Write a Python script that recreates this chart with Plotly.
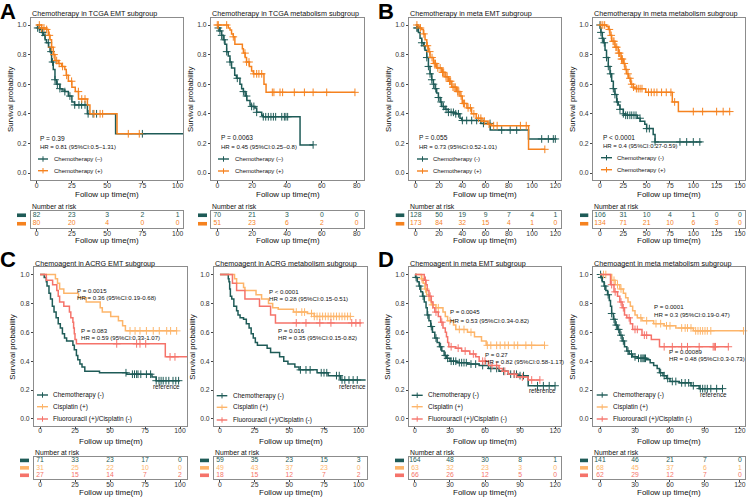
import plotly.graph_objects as go

W, H = 750, 501
TEAL = "#1E5B57"
ORANGE = "#F5821F"
CISPL = "#FDB56A"
FLUORO = "#F5736A"
BOXC = "#8C8C8C"
FONT = "Liberation Sans"

# ---------------- DATA ----------------
# Panel A1: Chemotherapy in TCGA EMT subgroup
a1_neg_t = [0.7, 2, 3.5, 4.7, 6, 7, 8.5, 9.5, 10.6, 11.8, 13, 14, 16.5, 18, 20, 22.5, 25, 26.9, 36, 56]
a1_neg_s = [0.98, 0.97, 0.95, 0.93, 0.90, 0.88, 0.85, 0.82, 0.75, 0.70, 0.63, 0.60, 0.57, 0.56, 0.55, 0.52, 0.48, 0.46, 0.40, 0.265]
a1_neg_end = 104
a1_neg_c = [0.7, 1.9, 4.3, 5.9, 8.3, 10.2, 11.3, 13, 14.7, 16.5, 20, 23.6, 27, 30, 31.9, 34.3, 36.5, 40, 42.5, 75]
a1_pos_t = [3.5, 7, 8.3, 9.5, 10.6, 11.8, 13, 15.3, 17.7, 20, 21, 22.5, 25, 27.4, 29.7, 36, 37.8, 57]
a1_pos_s = [0.98, 0.97, 0.93, 0.90, 0.85, 0.80, 0.76, 0.74, 0.72, 0.70, 0.66, 0.62, 0.58, 0.55, 0.50, 0.46, 0.40, 0.265]
a1_pos_end = 72.8
a1_pos_c = [1.9, 3.5, 5.2, 7.1, 9, 10.6, 12.3, 14.2, 16, 18.4, 21.3, 24.8, 29.6, 32, 34.3, 40.7, 45, 46.8, 65, 72.8]

# Panel A2: Chemotherapy in TCGA metabolism subgroup
a2_neg_t = [0.6, 1.5, 2.5, 3.4, 4.4, 5.4, 6.3, 7.3, 8.2, 10, 11, 13, 14, 15, 16, 17, 18.8, 19.7, 21.6, 22.6, 25.5, 26.4, 47.5]
a2_neg_s = [0.98, 0.96, 0.93, 0.90, 0.87, 0.82, 0.79, 0.75, 0.71, 0.66, 0.64, 0.60, 0.57, 0.55, 0.52, 0.49, 0.46, 0.45, 0.44, 0.41, 0.39, 0.38, 0.19]
a2_neg_end = 55
a2_neg_c = [0.6, 1.5, 2.5, 4, 5.4, 7.3, 11.5, 15, 16.8, 19.7, 21, 22.6, 26.4, 27.8, 29.3, 30.8, 32.2, 33.5, 37, 38.5, 39.4, 40.4, 55]
a2_pos_t = [6.3, 7.3, 8.2, 9.2, 10.1, 14.4, 15, 16, 16.8, 18.4, 19.7, 20.7, 26.8, 28]
a2_pos_s = [0.98, 0.966, 0.94, 0.92, 0.87, 0.84, 0.81, 0.78, 0.75, 0.72, 0.69, 0.67, 0.60, 0.545]
a2_pos_end = 79
a2_pos_c = [0, 0.6, 5.4, 9.2, 15.9, 16.8, 18.2, 21, 22.6, 23.9, 25.5, 31.6, 32.5, 36, 37.5, 44.2, 50, 55, 62.8, 79]

# Panel B1: Chemotherapy in meta EMT subgroup
b1_neg_t = [0.9, 2.3, 3.7, 5.2, 6.6, 8, 9.5, 10.9, 12.3, 13.8, 15.2, 16.6, 18, 19.5, 21, 22.4, 25.2, 28, 33.8, 38, 39.5, 56, 64, 97]
b1_neg_s = [0.98, 0.95, 0.91, 0.88, 0.86, 0.83, 0.78, 0.72, 0.67, 0.63, 0.60, 0.57, 0.54, 0.51, 0.48, 0.45, 0.43, 0.41, 0.40, 0.37, 0.355, 0.335, 0.29, 0.23]
b1_neg_end = 120
b1_neg_c = [0.9, 1.7, 5.2, 7.4, 9.5, 10.9, 12.3, 13.8, 15.2, 17.2, 19.5, 21.8, 23.8, 26.1, 28.1, 30.4, 32.4, 34.4, 36.7, 40.1, 43.8, 48.1, 52.4, 58.2, 63.9, 73.9, 81.2, 86.8, 108.3, 114, 118.3, 120]
b1_pos_t = [2.3, 3.7, 5.2, 6.6, 8, 9.5, 10.9, 12.3, 15.2, 18, 22.4, 25.2, 28, 31, 35, 38, 40, 44, 48, 52, 57, 62, 65, 97]
b1_pos_s = [0.99, 0.98, 0.97, 0.94, 0.90, 0.86, 0.82, 0.78, 0.74, 0.71, 0.68, 0.65, 0.62, 0.58, 0.55, 0.52, 0.47, 0.44, 0.40, 0.37, 0.35, 0.33, 0.32, 0.16]
b1_pos_end = 111
b1_pos_c = [1, 4, 7, 10, 12, 14, 16, 17, 19, 21, 23, 24, 26, 27, 29, 30, 32, 33, 34, 36, 37, 39, 41, 42, 45, 47, 50, 54, 56, 59, 63, 67, 70, 90, 95, 111]

# Panel B2: Chemotherapy in meta metabolism subgroup
b2_neg_t = [0.3, 1, 2.5, 3.6, 5.4, 7, 8.9, 10.7, 12.5, 14.3, 16, 17.9, 19.6, 21.4, 25, 26.8, 40, 43, 48, 50, 57, 59]
b2_neg_s = [0.98, 0.95, 0.91, 0.88, 0.83, 0.78, 0.72, 0.67, 0.62, 0.57, 0.53, 0.48, 0.46, 0.43, 0.40, 0.39, 0.37, 0.35, 0.33, 0.30, 0.26, 0.21]
b2_neg_end = 109
b2_neg_c = [0, 1, 2.5, 4.6, 7, 8.9, 11.4, 14.3, 16, 18.6, 21.4, 25, 27.5, 29.6, 32, 34, 36.4, 38.6, 42.9, 50, 52.9, 59, 85.7, 92.9, 100, 107]
b2_pos_t = [7, 9, 10.7, 12.5, 16, 19.6, 22.5, 25, 26.8, 28.6, 30.4, 33, 35.7, 37.5, 49, 77.5, 84]
b2_pos_s = [0.99, 0.97, 0.93, 0.89, 0.85, 0.81, 0.77, 0.74, 0.70, 0.67, 0.64, 0.60, 0.58, 0.57, 0.545, 0.48, 0.415]
b2_pos_end = 139
b2_pos_c = [1, 3, 5, 10, 12, 14, 15, 17, 18, 20, 21, 23, 24, 26, 28, 30, 32, 34, 36, 39, 41, 43, 45, 52, 55, 58, 61, 66, 71, 76, 80, 100, 110, 125, 132, 139]

# Panel C1: Chemoagent in ACRG EMT subgroup
c1_neg_t = [3, 4.5, 5, 6.4, 7.5, 8.8, 10, 11.5, 13, 14.5, 16, 17.5, 19, 23.5, 24.5, 26, 27, 28.5, 30, 32, 42.5, 62, 80, 83]
c1_neg_s = [0.98, 0.95, 0.92, 0.87, 0.83, 0.78, 0.74, 0.70, 0.66, 0.63, 0.59, 0.56, 0.54, 0.51, 0.48, 0.44, 0.41, 0.38, 0.36, 0.33, 0.32, 0.31, 0.29, 0.265]
c1_neg_end = 100
c1_neg_c = [61.4, 66, 67.5, 69, 70, 72, 76, 79, 83, 85, 86.5, 88, 90, 92, 95, 97, 99]
c1_cis_t = [11, 12.5, 14, 17, 27.5, 33, 43, 44.5, 50.5, 56, 59, 61]
c1_cis_s = [0.97, 0.94, 0.90, 0.87, 0.84, 0.81, 0.77, 0.74, 0.71, 0.68, 0.645, 0.61]
c1_cis_end = 98
c1_cis_c = [64.3, 67.9, 71.4, 76, 80.9, 85.2, 90.5, 93.3, 97.6]
c1_flu_t = [4.5, 9, 12, 13, 14, 17, 21, 22, 23.5, 24, 24.5, 25, 26, 89.5]
c1_flu_s = [0.96, 0.93, 0.89, 0.85, 0.81, 0.78, 0.74, 0.70, 0.67, 0.63, 0.59, 0.55, 0.52, 0.43]
c1_flu_end = 105
c1_flu_c = [54.8, 69, 71.4, 75.5, 92.9, 96.4]

# Panel C2: Chemoagent in ACRG metabolism subgroup
c2_neg_t = [6, 6.5, 7, 7.5, 8.5, 10, 12, 13, 14.5, 17, 19, 21, 22.5, 24, 25.5, 27, 34, 36.5, 43, 46, 49, 54, 57, 70, 78, 87]
c2_neg_s = [0.97, 0.95, 0.90, 0.85, 0.83, 0.78, 0.75, 0.72, 0.70, 0.69, 0.66, 0.63, 0.59, 0.56, 0.53, 0.51, 0.49, 0.46, 0.43, 0.40, 0.38, 0.36, 0.34, 0.32, 0.30, 0.27]
c2_neg_end = 105
c2_neg_c = [58, 62, 65, 73, 75, 77, 84, 86, 88, 90, 93, 96, 99]
c2_cis_t = [10.5, 12, 17, 18, 26, 30, 35, 38, 42, 53, 63, 68]
c2_cis_s = [0.97, 0.94, 0.91, 0.89, 0.86, 0.83, 0.80, 0.77, 0.76, 0.74, 0.73, 0.71]
c2_cis_end = 94
c2_cis_c = [55, 59, 61, 66, 68, 70, 72, 74, 76, 78, 80, 82, 84, 86, 88, 90, 92, 94]
c2_flu_t = [9, 12, 18, 28.5, 36.5, 40]
c2_flu_s = [0.94, 0.89, 0.83, 0.78, 0.72, 0.665]
c2_flu_end = 102
c2_flu_c = [55, 62, 72, 80, 95, 98, 101]

# Panel D1: Chemoagent in meta EMT subgroup
d1_neg_t = [0.5, 2, 3.5, 5, 6.5, 8, 9.5, 10.5, 12, 13.5, 15, 17, 19, 21, 23, 25, 27, 30, 36, 45, 55, 63, 72, 80, 88, 97]
d1_neg_s = [0.98, 0.95, 0.92, 0.88, 0.85, 0.81, 0.77, 0.72, 0.68, 0.64, 0.60, 0.56, 0.53, 0.50, 0.47, 0.44, 0.42, 0.40, 0.39, 0.38, 0.37, 0.35, 0.33, 0.31, 0.30, 0.23]
d1_neg_end = 120
d1_neg_c = [1, 4, 7, 11, 14, 18, 22, 26, 28, 31, 33, 35, 38, 40, 42, 44, 48, 52, 58, 65, 70, 76, 82, 85, 87, 90, 93, 105, 110, 115, 120]
d1_cis_t = [5.5, 7, 8.5, 10, 12, 14, 18, 24, 26, 28, 33, 35, 45, 51, 57, 61]
d1_cis_s = [0.97, 0.94, 0.90, 0.86, 0.82, 0.79, 0.77, 0.74, 0.71, 0.68, 0.65, 0.62, 0.60, 0.57, 0.54, 0.51]
d1_cis_end = 111
d1_cis_c = [6, 9, 15, 20, 30, 38, 42, 48, 62, 65, 70, 73, 77, 80, 85, 88, 95, 100, 111]
d1_flu_t = [8, 9.5, 10.5, 12, 14, 15.5, 17, 20, 22, 24, 26, 27, 28, 29, 35, 40, 47, 52, 55, 63, 72, 75, 80, 87, 97]
d1_flu_s = [0.96, 0.93, 0.89, 0.85, 0.81, 0.77, 0.74, 0.71, 0.67, 0.63, 0.60, 0.57, 0.53, 0.50, 0.49, 0.47, 0.45, 0.43, 0.40, 0.37, 0.35, 0.33, 0.31, 0.29, 0.27]
d1_flu_end = 107
d1_flu_c = [9, 13, 18, 23, 31, 37, 43, 50, 58, 60, 66, 70, 77, 85, 92, 100, 107]

# Panel D2: Chemoagent in meta metabolism subgroup
d2_neg_t = [1, 2, 3.5, 5, 6.5, 8, 9, 10, 11.5, 13, 15, 17, 19, 21, 23, 25, 28, 32, 40, 43, 46, 49, 51, 54, 57, 60, 68, 78, 85]
d2_neg_s = [0.98, 0.95, 0.92, 0.89, 0.86, 0.82, 0.78, 0.73, 0.69, 0.65, 0.62, 0.58, 0.54, 0.50, 0.47, 0.45, 0.43, 0.42, 0.41, 0.39, 0.37, 0.35, 0.32, 0.30, 0.28, 0.26, 0.25, 0.23, 0.21]
d2_neg_end = 105
d2_neg_c = [0.5, 1.5, 4, 7, 10, 12, 14, 16, 18, 20, 24, 27, 30, 33, 35, 36, 37, 38, 39, 52, 55, 58, 62, 65, 70, 73, 76, 80, 86, 88, 90, 92, 95, 100, 105]
d2_cis_t = [10, 13, 17, 20, 22, 24, 26, 28, 30, 32, 36, 46, 55, 65, 80]
d2_cis_s = [0.96, 0.93, 0.90, 0.87, 0.84, 0.81, 0.78, 0.75, 0.72, 0.70, 0.68, 0.66, 0.645, 0.63, 0.61]
d2_cis_end = 123
d2_cis_c = [3, 5, 12, 15, 18, 35, 40, 48, 52, 57, 60, 70, 73, 75, 78, 82, 84, 86, 88, 90, 92, 95, 123]
d2_flu_t = [9, 12, 15, 17, 19, 21, 23, 26, 28, 36, 44, 51]
d2_flu_s = [0.93, 0.88, 0.85, 0.81, 0.77, 0.72, 0.70, 0.66, 0.62, 0.58, 0.55, 0.50]
d2_flu_end = 110
d2_flu_c = [10, 13, 18, 20, 25, 30, 32, 38, 40, 55, 62, 70, 75, 85, 97, 98, 99, 110]

# Number-at-risk tables
a1_risk_ticks = [0, 25, 50, 75, 100]
a1_risk_neg = [82, 23, 3, 2, 1]
a1_risk_pos = [80, 20, 4, 0, 0]
a2_risk_ticks = [0, 20, 40, 60, 80]
a2_risk_neg = [70, 21, 3, 0, 0]
a2_risk_pos = [51, 23, 6, 2, 0]
b1_risk_ticks = [0, 20, 40, 60, 80, 100, 120]
b1_risk_neg = [128, 50, 19, 9, 7, 4, 1]
b1_risk_pos = [173, 84, 32, 15, 4, 1, 0]
b2_risk_ticks = [0, 25, 50, 75, 100, 125, 150]
b2_risk_neg = [106, 31, 10, 4, 1, 0, 0]
b2_risk_pos = [134, 71, 21, 10, 6, 3, 0]
c1_risk_ticks = [0, 25, 50, 75, 100]
c1_risk_neg = [71, 33, 23, 17, 0]
c1_risk_cis = [31, 25, 22, 10, 0]
c1_risk_flu = [27, 15, 14, 7, 2]
c2_risk_ticks = [0, 25, 50, 75, 100]
c2_risk_neg = [59, 35, 23, 15, 3]
c2_risk_cis = [49, 43, 37, 23, 0]
c2_risk_flu = [18, 15, 12, 7, 2]
d1_risk_ticks = [0, 30, 60, 90, 120]
d1_risk_neg = [164, 48, 30, 8, 1]
d1_risk_cis = [63, 32, 23, 3, 0]
d1_risk_flu = [66, 26, 12, 5, 0]
d2_risk_ticks = [0, 30, 60, 90, 120]
d2_risk_neg = [141, 46, 21, 7, 0]
d2_risk_cis = [68, 45, 37, 6, 1]
d2_risk_flu = [62, 29, 12, 7, 0]

y_ticks = [0, 0.2, 0.4, 0.6, 0.8, 1.0]
y_ticktext = ["0.0", "0.2", "0.4", "0.6", "0.8", "1.0"]

# ---------------- LAYOUT GEOMETRY (pixels) ----------------
TOP_KM = (17.6, 180.4)
BOT_KM = (267.3, 426.2)
TOP_TAB = (211, 228)
BOT_TAB = (456.7, 479)

neg2 = ["Chemotherapy (–)", "Chemotherapy (+)"]
neg2b = ["Chemotherapy (-)", "Chemotherapy (+)"]
three = ["Chemotherapy (-)", "Cisplatin (+)", "Fluorouracil (+)/Cisplatin (-)"]

PS, HS, BS = 6.6, 6.0, 6.1  # stat font sizes (top P, top HR, bottom)

panels = [
    dict(title="Chemotherapy in TCGA EMT subgroup", box=(31, 183), row=0, xr=(-4, 103.8),
         ticks=a1_risk_ticks,
         curves=[(a1_neg_t, a1_neg_s, a1_neg_end, a1_neg_c, TEAL), (a1_pos_t, a1_pos_s, a1_pos_end, a1_pos_c, ORANGE)],
         risk=[(a1_risk_neg, TEAL), (a1_risk_pos, ORANGE)], labels=neg2,
         stats=[("P = 0.39", 38.3, 138.3, PS), ("HR = 0.81 (95%CI:0.5–1.31)", 38.3, 146.7, HS)],
         leg=(38, 48, 51.7, [159, 170.7]), ytitle_x=10, bars=(17, 26)),
    dict(title="Chemotherapy in TCGA metabolism subgroup", box=(211, 364), row=0, xr=(-3.6, 84.2),
         ticks=a2_risk_ticks,
         curves=[(a2_neg_t, a2_neg_s, a2_neg_end, a2_neg_c, TEAL), (a2_pos_t, a2_pos_s, a2_pos_end, a2_pos_c, ORANGE)],
         risk=[(a2_risk_neg, TEAL), (a2_risk_pos, ORANGE)], labels=neg2,
         stats=[("P = 0.0063", 219, 138, PS), ("HR = 0.45 (95%CI:0.25–0.8)", 219, 147, HS)],
         leg=(218, 229, 232.7, [159, 171]), ytitle_x=190, bars=(198, 207)),
    dict(title="Chemotherapy in meta EMT subgroup", box=(409, 561), row=0, xr=(-5.8, 124.9),
         ticks=b1_risk_ticks,
         curves=[(b1_neg_t, b1_neg_s, b1_neg_end, b1_neg_c, TEAL), (b1_pos_t, b1_pos_s, b1_pos_end, b1_pos_c, ORANGE)],
         risk=[(b1_risk_neg, TEAL), (b1_risk_pos, ORANGE)], labels=neg2b,
         stats=[("P = 0.055", 416.7, 138, PS), ("HR = 0.73 (95%CI:0.52-1.01)", 416.7, 147, HS)],
         leg=(417, 428, 430.7, [159, 171]), ytitle_x=388, bars=(395.7, 404.3)),
    dict(title="Chemotherapy in meta metabolism subgroup", box=(593, 745), row=0, xr=(-7.5, 155.4),
         ticks=b2_risk_ticks,
         curves=[(b2_neg_t, b2_neg_s, b2_neg_end, b2_neg_c, TEAL), (b2_pos_t, b2_pos_s, b2_pos_end, b2_pos_c, ORANGE)],
         risk=[(b2_risk_neg, TEAL), (b2_risk_pos, ORANGE)], labels=neg2b,
         stats=[("P < 0.0001", 600.7, 137, PS), ("HR = 0.4 (95%CI:0.27-0.59)", 600.7, 146, HS)],
         leg=(601, 612, 615, [157.7, 169.7]), ytitle_x=572, bars=(580, 588.3)),
    dict(title="Chemoagent in ACRG EMT subgroup", box=(34, 187), row=1, xr=(-4.3, 105),
         ticks=c1_risk_ticks,
         curves=[(c1_neg_t, c1_neg_s, c1_neg_end, c1_neg_c, TEAL), (c1_cis_t, c1_cis_s, c1_cis_end, c1_cis_c, CISPL),
                 (c1_flu_t, c1_flu_s, c1_flu_end, c1_flu_c, FLUORO)],
         risk=[(c1_risk_neg, TEAL), (c1_risk_cis, CISPL), (c1_risk_flu, FLUORO)], labels=three,
         stats=[("P = 0.0015", 75, 290.7, BS), ("HR = 0.36 (95%CI:0.19-0.68)", 75, 297.3, BS),
                ("P = 0.083", 78.5, 330.7, BS), ("HR = 0.59 (95%CI:0.33-1.07)", 78.5, 337, BS)],
         ref=(166.7, 386.7),
         leg=(37, 48, 50.7, [395, 406.7, 419]), ytitle_x=13, bars=(20, 29)),
    dict(title="Chemoagent in ACRG metabolism subgroup", box=(214, 367), row=1, xr=(-4.3, 106),
         ticks=c2_risk_ticks,
         curves=[(c2_neg_t, c2_neg_s, c2_neg_end, c2_neg_c, TEAL), (c2_cis_t, c2_cis_s, c2_cis_end, c2_cis_c, CISPL),
                 (c2_flu_t, c2_flu_s, c2_flu_end, c2_flu_c, FLUORO)],
         risk=[(c2_risk_neg, TEAL), (c2_risk_cis, CISPL), (c2_risk_flu, FLUORO)], labels=three,
         stats=[("P < 0.0001", 266.7, 291.7, BS), ("HR = 0.28 (95%CI:0.15-0.51)", 266.7, 298.3, BS),
                ("P = 0.016", 275.7, 330, BS), ("HR = 0.35 (95%CI:0.15-0.82)", 275.7, 337, BS)],
         ref=(352, 386.7),
         leg=(216.7, 227.3, 231, [395.7, 407.3, 420]), ytitle_x=193, bars=(200, 209)),
    dict(title="Chemoagent in meta EMT subgroup", box=(409, 561), row=1, xr=(-5.1, 125.1),
         ticks=d1_risk_ticks,
         curves=[(d1_neg_t, d1_neg_s, d1_neg_end, d1_neg_c, TEAL), (d1_cis_t, d1_cis_s, d1_cis_end, d1_cis_c, CISPL),
                 (d1_flu_t, d1_flu_s, d1_flu_end, d1_flu_c, FLUORO)],
         risk=[(d1_risk_neg, TEAL), (d1_risk_cis, CISPL), (d1_risk_flu, FLUORO)], labels=three,
         stats=[("P = 0.0045", 448.3, 311.7, BS), ("HR = 0.53 (95%CI:0.34-0.82)", 448.3, 320, BS),
                ("P = 0.27", 483.3, 354.3, BS), ("HR = 0.82 (95%CI:0.58-1.17)", 483.3, 361, BS)],
         ref=(542, 390),
         leg=(411.7, 422.7, 426, [395.3, 406.7, 419]), ytitle_x=388, bars=(395, 404)),
    dict(title="Chemoagent in meta metabolism subgroup", box=(593, 745), row=1, xr=(-6, 124.3),
         ticks=d2_risk_ticks,
         curves=[(d2_neg_t, d2_neg_s, d2_neg_end, d2_neg_c, TEAL), (d2_cis_t, d2_cis_s, d2_cis_end, d2_cis_c, CISPL),
                 (d2_flu_t, d2_flu_s, d2_flu_end, d2_flu_c, FLUORO)],
         risk=[(d2_risk_neg, TEAL), (d2_risk_cis, CISPL), (d2_risk_flu, FLUORO)], labels=three,
         stats=[("P = 0.0001", 651.7, 306, BS), ("HR = 0.3 (95%CI:0.19-0.47)", 651.7, 314.3, BS),
                ("P = 0.00089", 666.7, 351, BS), ("HR = 0.48 (95%CI:0.3-0.73)", 666.7, 358.3, BS)],
         ref=(713, 394),
         leg=(596.7, 607.7, 611, [395, 407, 419]), ytitle_x=573, bars=(580, 588)),
]


def PX(p):
    return p / W


def PY(p):
    return 1 - p / H


def step_xy(t, s, end):
    return [0] + list(t) + [end], [1.0] + list(s) + [s[-1]]


def cens_y(t, s, c):
    out = []
    for ci in c:
        v = 1.0
        for ti, si in zip(t, s):
            if ti <= ci:
                v = si
        out.append(v)
    return out


fig = go.Figure()
layout = dict(width=W, height=H, margin=dict(l=0, r=0, t=0, b=0), paper_bgcolor="white",
              plot_bgcolor="white", showlegend=False, font=dict(family=FONT, color="#222"))
annotations = []
shapes = []

axis_common = dict(showgrid=False, zeroline=False, showline=True, mirror=True, linecolor=BOXC,
                   linewidth=1, ticks="outside", ticklen=2, tickwidth=0.8, tickcolor="#444",
                   tickfont=dict(size=6.8, color="#333", family=FONT))

for i, p in enumerate(panels):
    km = i + 1
    tb = i + 9
    L, R = p["box"]
    kmT, kmB = TOP_KM if p["row"] == 0 else BOT_KM
    tbT, tbB = TOP_TAB if p["row"] == 0 else BOT_TAB
    xd = [PX(L), PX(R)]
    layout[f"xaxis{km}"] = dict(axis_common, domain=xd, range=list(p["xr"]), tickvals=p["ticks"],
                                anchor=f"y{km}", ticklabelstandoff=-4)
    layout[f"yaxis{km}"] = dict(axis_common, domain=[PY(kmB), PY(kmT)], range=[-0.05, 1.05],
                                tickvals=y_ticks, ticktext=y_ticktext, anchor=f"x{km}")
    nrow = len(p["risk"])
    layout[f"xaxis{tb}"] = dict(axis_common, domain=xd, range=list(p["xr"]), tickvals=p["ticks"],
                                anchor=f"y{tb}", ticklabelstandoff=-3)
    layout[f"yaxis{tb}"] = dict(axis_common, domain=[PY(tbB), PY(tbT)],
                                range=[0.45, nrow + 0.55] if nrow == 3 else [0.4, nrow + 0.6],
                                showticklabels=False, ticks="", anchor=f"x{tb}")

    for (t, s, end, c, col) in p["curves"]:
        xs, ys = step_xy(t, s, end)
        fig.add_trace(go.Scatter(x=xs, y=ys, mode="lines", line=dict(color=col, width=1.5, shape="hv"),
                                 xaxis=f"x{km}", yaxis=f"y{km}", hoverinfo="skip"))
        fig.add_trace(go.Scatter(x=c, y=cens_y(t, s, c), mode="markers",
                                 marker=dict(symbol="cross-thin", size=5.5, line=dict(color=col, width=1)),
                                 xaxis=f"x{km}", yaxis=f"y{km}", hoverinfo="skip", cliponaxis=False))

    for r, (vals, col) in enumerate(p["risk"]):
        yrow = nrow - r
        fig.add_trace(go.Scatter(x=p["ticks"], y=[yrow] * len(vals), mode="text",
                                 text=[str(v) for v in vals],
                                 textfont=dict(size=6.8, color=col, family=FONT),
                                 xaxis=f"x{tb}", yaxis=f"y{tb}", hoverinfo="skip", cliponaxis=False))
        # colour key bar at the left of the table
        rowpx = tbT + (tbB - tbT) * (r + 0.5) / nrow
        shapes.append(dict(type="rect", xref="paper", yref="paper", x0=PX(p["bars"][0]), x1=PX(p["bars"][1]),
                           y0=PY(rowpx + 1.8), y1=PY(rowpx - 1.8), fillcolor=col, line=dict(width=0)))

    # title
    ty = 13 if p["row"] == 0 else 263
    annotations.append(dict(text=p["title"], x=PX(L - 1), y=PY(ty), xref="paper", yref="paper",
                            xanchor="left", yanchor="middle", showarrow=False,
                            font=dict(size=7.2, color="#111")))
    # axis titles
    cx = (L + R) / 2
    xt_y = 194.5 if p["row"] == 0 else 441
    annotations.append(dict(text="Follow up time(m)", x=PX(cx), y=PY(xt_y), xref="paper", yref="paper",
                            xanchor="center", yanchor="middle", showarrow=False,
                            font=dict(size=8, color="#111")))
    tab_xt_y = 240.5 if p["row"] == 0 else 492.7
    annotations.append(dict(text="Follow up time(m)", x=PX(cx), y=PY(tab_xt_y), xref="paper", yref="paper",
                            xanchor="center", yanchor="middle", showarrow=False,
                            font=dict(size=8, color="#111")))
    annotations.append(dict(text="Survival probability", x=PX(p["ytitle_x"]), y=PY((kmT + kmB) / 2),
                            xref="paper", yref="paper", xanchor="center", yanchor="middle",
                            textangle=-90, showarrow=False, font=dict(size=7.8, color="#111")))
    # number at risk header
    nar_y = 206.5 if p["row"] == 0 else 452.7
    annotations.append(dict(text="Number at risk", x=PX(L - 1), y=PY(nar_y), xref="paper", yref="paper",
                            xanchor="left", yanchor="middle", showarrow=False,
                            font=dict(size=6.8, color="#111")))
    # stats
    for (txt, sx, sy, fs) in p["stats"]:
        annotations.append(dict(text=txt, x=PX(sx), y=PY(sy), xref="paper", yref="paper",
                                xanchor="left", yanchor="middle", showarrow=False,
                                font=dict(size=fs, color="#111")))
    if "ref" in p:
        annotations.append(dict(text="reference", x=PX(p["ref"][0]), y=PY(p["ref"][1]), xref="paper",
                                yref="paper", xanchor="center", yanchor="middle", showarrow=False,
                                font=dict(size=6.3, color="#111")))
    # legend
    k0, k1, tx, ys_ = p["leg"]
    lfs = 6.0 if p["row"] == 0 else 6.5
    for (lab, (_, _, _, _, col)), ly in zip(zip(p["labels"], p["curves"]), ys_):
        shapes.append(dict(type="line", xref="paper", yref="paper", x0=PX(k0), x1=PX(k1), y0=PY(ly), y1=PY(ly),
                           line=dict(color=col, width=1.4)))
        km_ = (k0 + k1) / 2
        shapes.append(dict(type="line", xref="paper", yref="paper", x0=PX(km_), x1=PX(km_), y0=PY(ly - 2.7),
                           y1=PY(ly + 2.7), line=dict(color=col, width=1)))
        annotations.append(dict(text=lab, x=PX(tx), y=PY(ly), xref="paper", yref="paper", xanchor="left",
                                yanchor="middle", showarrow=False, font=dict(size=lfs, color="#111")))

for letter, lx, ly in [("A", 8, 11), ("B", 386, 11), ("C", 8, 259), ("D", 386, 259)]:
    annotations.append(dict(text=f"<b>{letter}</b>", x=PX(lx), y=PY(ly), xref="paper", yref="paper",
                            xanchor="center", yanchor="middle", showarrow=False,
                            font=dict(size=22, color="#000")))

layout["annotations"] = annotations
layout["shapes"] = shapes
fig.update_layout(**layout)
fig.write_html("out.html")
